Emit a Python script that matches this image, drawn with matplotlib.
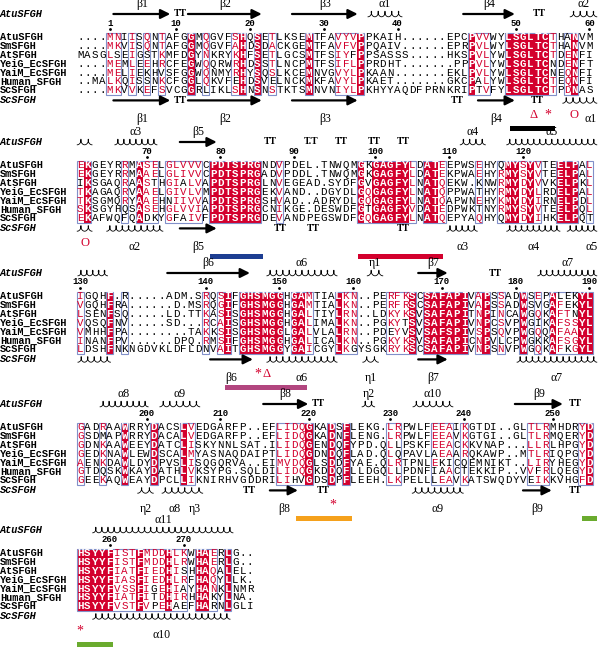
import matplotlib
matplotlib.use("Agg")
import matplotlib.pyplot as plt
from matplotlib.patches import Rectangle
import numpy as np

# ---- alignment data (5 blocks: 70, 70, 70, 70, 24 columns) ----
names = ["AtuSFGH", "SmSFGH", "AtSFGH", "YeiG_EcSFGH", "YaiM_EcSFGH", "Human_SFGH", "ScSFGH"]

seq_atu = ("....MNIISQNTAFGGMQGVFSHQSETLKS" "EMTFAVYVPPKAIH......EPCPVVWYLSGLTCTHANVM"
           "EKGEYRRMASELGLVVVCPDTSPRGNDVPD" "EL.TNWQMGKGAGFYLDATEEPWSEHYQMYSYVTEELPAL"
           "IGQHF.R.....ADM.SRQSIFGHSMGGHG" "AMTIALKN..PERFKSCSAFAPIVAPSSADWSEPALEKYL"
           "GADRAAWRRYDACSLVEDGARFP..EFLID" "QGKADSFLEKG.LRPWLFEEAIKGTDI..GLTLRMHDRYD"
           "HSYYFISTFMDDHLKWHAERLG..")
seq_sm = ("....MKVISQNTAFGGMQGVFAHDSDACKG" "EMTFAVFVPPQAIV......EPRPVLWYLSGLTCTHANVM"
          "EKGEYRRMAAELGLIVVCPDTSPRGADVPD" "DL.TNWQMGKGAGFYLDATEKPWAEHYRMYSYVTEELPAL"
          "VGQHFRA......D.MSRQGIFGHSMGGHG" "AMTIALKN..PERFRSCSAFAPIVAPSSADWSVGAFEKYL"
          "GSDMAPWRRYDACALVEDGARFP..EFLID" "QGKADNFLENG.LRPWLFEEAVKGTGI..GLTLRMQERYD"
          "HSYYFISTFMDDHLRWHAERLG..")
seq_at = ("MASGLSEIGSTKMFDGYNKRYKHFSETLGC" "SMTFSIYFPPSASSS.....HKSPVLYWLSGLTCTDENFI"
          "IKSGAQRAASTHGIALVAPDTSPRGLNVEG" "EAD.SYDFGVGAGFYLNATQEKW.KNWRMYDYVVKELPKL"
          "LSENFSQ.....LD.TTKASISGHSMGGHG" "ALTIYLRN..LDKYKSVSAFAPITNPINCAWGQKAFTNYL"
          "GDNKAAWEEYDATCLISKYNNLSAT.ILID" "QGENDQFYPD.QLLPSKFEEACKKVNAP...LLRLHPGYD"
          "HSYYFIATFIEDHISHHAQALEL.")
seq_yeig = ("....MEMLEEHRCFEGWQQRWRHDSSTLNC" "PMTFSIFLPPRDHT.......PPPVLYWLSGLTCNDENFT"
            "TKAGAQRVAAELGIVLVMPDTSPRGEKVAN" "D..DGYDLGQGAGFYLNATQPPWATHYRMYDYLRDELPAL"
            "VQSQFNV.....SD...RCAISGHSMGGHG" "ALIMALKN..PGKYTSVSAFAPIVNPCSVPWGIKAFSSYL"
            "GEDKNAWLEWDSCALMYASNAQDAIPTLID" "QGDNDQFLAD.QLQPAVLAEAARQKAWP..MTLRIQPGYD"
            "HSYYFIASFIEDHLRFHAQYLLK.")
seq_yaim = ("....MELIEKHVSFGGWQNMYRHYSQSLKC" "EMNVGVYLPKAAN.......EKLPVLYWLSGLTCNEQNFI"
            "TKSGMQRYAAEHNIIVVAPDTSPRGSHVAD" "..ADRYDLGQGAGFYLNATQAPWNEHYKMYDYIRNELPDL"
            "VMHHFPA........TAKKSISGHSMGGLG" "ALVLALRN..PDEYVSVSAFSPIVSPSQVPWGQQAFAAYL"
            "AENKDAWLDYDPVSLISQGQRVA..EIMVD" "QGLSDDFYAE.QLRTPNLEKICQEMNIKT..LIRYHEGYD"
            "HSYYFVSSFIGEHIAYHANKLNMR")
seq_human = ("..MALKQISSNKCFGGLQKVFEHDSVELNC" "KMKFAVYLPKAET.......GKCPALYWLSGLTCTEQNFI"
             "SKSGYHQSASEHGLVVIAPDTSPRGCNIKG" "E.DESWDFGTGAGFYVDATEDPWKTNYRMYSYVTEELPQL"
             "INANFPV......DPQ.RMSIFGHSMGGHG" "ALICALKN..PGKYKSVSAFAPICNPVLCPWGKKAFSGYL"
             "GTDQSKWKAYDATHLVKSYPG.SQLDILID" "QGKDDQFLLDGQLLPDNFIAACTEKKIP..VVFRLQEGYD"
             "HSYYFIATFITDHIRHHAKYLNA.")
seq_sc = ("....MKVVKEFSVCGGRLIKLSHNSNSTKT" "SMNVNIYLPKHYYAQDFPRNKRIPTVFYLSGLTCTPDNAS"
          "EKAFWQFQADKYGFAIVFPDTSPRGDEVAN" "DPEGSWDFGQGAGFYLNATQEPYAQHYQMYDYIHKELPQT"
          "LDSHFNKNGDVKLDFLDNVAITGHSMGGYG" "AICGYLKGYSGKRYKSCSAFAPIVNPSNVPWGQKAFKGYL"
          "GEEKAQWEAYDPCLLIKNIRHVGDDRILIH" "VGDSDPFLEEH.LKPELLLEAVKATSWQDYVEIKKVHGFD"
          "HSYYFVSTFVPEHAEFHARNLGLI")
seqs = [seq_atu, seq_sm, seq_at, seq_yeig, seq_yaim, seq_human, seq_sc]

# column class: F = strictly conserved (red box), B = similar (framed), . = none
col_class = ("....BB.B.B.B...F.B...BF.F.B..." ".F...BBBF" ".............." "FBB..FFFFFFB.BF.."
             "BF....B.FBB.BBBBB.FFFFFFF..B.." "........FBFFFFFB.FFB....B..BFFBFB..FFF.B"
             "B...F.B..........B.BF.FFFFFF.F" "FB...FBB....BBBF.FFFFFF.BF.B..F.B.FBBBFF"
             "B..B..F...F...FB...........BBB" "BF..F.F.....BB....BBB.B........BBB....BF"
             "FFFFFBBBFBBBFBB.FFB.F...")

# secondary structure (block, kind, start col, end col, label); H helix, E strand, T turn
ss_top = [
    (0, "E", 5.0, 12.7, "β1"), (0, "T", 13.0, 15.0, "TT"), (0, "E", 15.1, 25.1, "β2"),
    (0, "E", 29.2, 38.1, "β3"), (0, "H", 39.5, 44.1, "α1"), (0, "E", 52.4, 59.4, "β4"),
    (0, "T", 61.7, 63.7, "TT"), (0, "H", 66.9, 70.5, "α2"),
    (1, "H", 0.1, 2.1, ""), (1, "H", 5.2, 10.9, "α3"), (1, "E", 14.0, 19.0, "β5"),
    (1, "T", 25.3, 27.3, "TT"), (1, "T", 30.6, 33.0, "T.T"), (1, "T", 34.6, 37.1, "TT"),
    (1, "T", 39.5, 41.3, "TT"), (1, "T", 43.4, 45.3, "TT"), (1, "H", 52.0, 55.4, "α4"),
    (1, "H", 58.3, 70.5, "α5"),
    (2, "H", 0.2, 4.2, ""), (2, "E", 12.3, 23.5, "β6"), (2, "H", 25.8, 35.3, "α6"),
    (2, "H", 39.4, 41.5, "η1"), (2, "E", 46.3, 50.3, "β7"), (2, "T", 55.8, 57.6, "TT"),
    (2, "H", 62.5, 70.5, "α7"),
    (3, "H", 3.2, 9.7, "α8"), (3, "H", 11.3, 16.7, "α9"), (3, "E", 25.3, 31.4, "β8"),
    (3, "T", 31.6, 33.9, "TT"), (3, "H", 38.7, 40.4, "η2"), (3, "H", 45.6, 51.0, "α10"),
    (3, "E", 59.4, 65.9, "β9"), (3, "T", 66.5, 68.6, "TT"),
    (4, "H", 2.2, 21.2, "α11"),
]
ss_bot = [
    (0, "E", 5.0, 12.7, "β1"), (0, "T", 13.0, 15.0, "TT"), (0, "E", 15.1, 25.1, "β2"),
    (0, "E", 29.2, 38.1, "β3"), (0, "T", 50.6, 52.6, "TT"), (0, "E", 54.4, 59.4, "β4"),
    (0, "T", 61.5, 63.5, "TT"), (0, "H", 65.9, 70.5, "α1"),
    (1, "H", 0.1, 2.1, ""), (1, "H", 4.1, 11.7, "α2"), (1, "E", 14.0, 19.0, "β5"),
    (1, "T", 26.6, 28.5, "TT"), (1, "T", 31.2, 33.0, "TT"), (1, "T", 43.4, 45.2, "TT"),
    (1, "H", 50.2, 54.3, "α3"), (1, "H", 58.3, 65.5, "α4"), (1, "H", 66.5, 70.5, "α5"),
    (2, "H", 0.2, 4.6, ""), (2, "E", 18.1, 23.9, "β6"), (2, "H", 25.8, 35.3, "α6"),
    (2, "H", 38.8, 40.9, "η1"), (2, "E", 46.3, 50.3, "β7"), (2, "H", 59.7, 70.5, "α7"),
    (3, "H", 8.3, 10.4, "η2"), (3, "H", 11.6, 15.1, "α8"), (3, "H", 15.1, 17.1, "η3"),
    (3, "T", 22.4, 24.5, "TT"), (3, "E", 26.2, 30.0, "β8"), (3, "T", 32.6, 34.4, "TT"),
    (3, "H", 45.5, 52.4, "α9"), (3, "E", 60.5, 64.4, "β9"), (3, "T", 66.6, 68.5, "TT"),
    (4, "H", 2.2, 20.8, "α10"),
]
# label column overrides (block, label) -> column
label_col_bot = {(0, "α1"): 69.6, (1, "α5"): 69.8}

# red site markers below the Sc line
marks = [(0, "Δ", 61.9), (0, "*", 63.9), (0, "O", 67.4), (1, "O", 1.1),
         (2, "*", 24.6), (2, "Δ", 25.8), (3, "*", 34.8), (4, "*", 0.5)]

# coloured bars (block, start col, end col, colour)
bars = [(0, 58.8, 64.8, "black"), (1, 18.1, 25.3, "#1d3e92"), (1, 38.1, 49.6, "#d3002d"),
        (2, 20.1, 31.2, "#b2467f"), (3, 29.8, 37.3, "#f5a11c"), (3, 68.5, 70.5, "#6aab2e"),
        (4, 0.1, 5.0, "#6aab2e")]

# ---- layout ----
X0, W = 76.5, 7.38
ROW = 8.9
Y0 = [37, 165, 296, 427, 553]
BLOCK = 70
RED = "#d3002d"
FRAME = "#8190c9"
MONO = "Liberation Mono"
SERIF = "Liberation Serif"
groups = ["ILMV", "FYW", "KRH", "DENQ", "STAG", "P", "C"]


def grp(a):
    for g in groups:
        if a in g:
            return g
    return None


def cx(c):
    return X0 + (c + 0.5) * W


def ex(c):
    return X0 + c * W


fig = plt.figure(figsize=(6, 6.51), dpi=100)
ax = fig.add_axes([0, 0, 1, 1])
ax.set_xlim(0, 600)
ax.set_ylim(651, 0)
ax.axis("off")


def helix(xa, xb, y):
    n = max(1, int(round((xb - xa) / 6.2)))
    t = np.linspace(0, 2 * np.pi * n, 40 * n)
    p = (xb - xa) / n
    xs = xa + p * t / (2 * np.pi) + 1.6 * np.sin(t)
    ys = y + 2.8 - 2.8 * (1 - np.cos(t))
    ax.plot(xs, ys, color="black", lw=0.6)


def strand(xa, xb, y):
    ax.annotate("", xy=(xb, y), xytext=(xa, y),
                arrowprops=dict(arrowstyle="-|>,head_length=0.7,head_width=0.35",
                                lw=1.6, color="black", shrinkA=0, shrinkB=0,
                                mutation_scale=8))


def draw_ss(b, kind, c0, c1, label, y, ylab, lcol=None):
    xa, xb = ex(c0), ex(c1)
    if kind == "H":
        helix(xa, xb, y)
    elif kind == "E":
        strand(xa, xb, y)
    else:
        ax.text((xa + xb) / 2, y, label, ha="center", va="center",
                family=SERIF, weight="bold", fontsize=7)
        return
    if label:
        lx = ex(lcol) if lcol is not None else (xa + xb) / 2
        ax.text(lx, ylab, label, ha="center", va="center", family=SERIF, fontsize=8.5)


# residue numbering of the first sequence
resnum = []
n = 0
for ch in seq_atu:
    if ch != ".":
        n += 1
        resnum.append(n)
    else:
        resnum.append(None)

ncol = len(seq_atu)
for b, y0 in enumerate(Y0):
    lo, hi = b * BLOCK, min((b + 1) * BLOCK, ncol)
    ytop, ybot = y0 - ROW / 2, y0 + 6 * ROW + ROW / 2
    cls = col_class[lo:hi]

    # red boxes and frames
    c = 0
    while c < len(cls):
        if cls[c] == ".":
            c += 1
            continue
        s = c
        while c < len(cls) and cls[c] != ".":
            c += 1
        ax.add_patch(Rectangle((ex(s), ytop), (c - s) * W, ybot - ytop, fill=False,
                               ec=FRAME, lw=0.8, zorder=3))
    c = 0
    while c < len(cls):
        if cls[c] != "F":
            c += 1
            continue
        s = c
        while c < len(cls) and cls[c] == "F":
            c += 1
        ax.add_patch(Rectangle((ex(s), ytop), (c - s) * W, ybot - ytop, fc=RED,
                               ec="none", zorder=2))

    # names
    ax.text(0, y0 - 23, "AtuSFGH", family=MONO, weight="bold", style="italic",
            fontsize=7.4, va="center")
    ax.text(0, y0 + 6 * ROW + 10, "ScSFGH", family=MONO, weight="bold", style="italic",
            fontsize=7.4, va="center")
    for i, nm in enumerate(names):
        ax.text(0, y0 + i * ROW, nm, family=MONO, weight="bold", fontsize=7.4, va="center")

    # residues
    for k in range(hi - lo):
        col = [s[lo + k] for s in seqs]
        gs = [grp(a) for a in col]
        for i, a in enumerate(col):
            x, y = cx(k), y0 + i * ROW
            if cls[k] == "F":
                ax.text(x, y, a, ha="center", va="center", family=MONO, weight="bold",
                        fontsize=7.8, color="white", zorder=4)
            else:
                color = "black"
                if cls[k] == "B" and a != "." and gs.count(gs[i]) >= 3:
                    color = RED
                ax.text(x, y, a, ha="center", va="center", family=MONO,
                        fontsize=7.8, color=color, zorder=4)
        r = resnum[lo + k]
        if r is not None and (r == 1 or r % 10 == 0):
            ax.text(cx(k), y0 - 14, str(r), ha="center", va="center", family=MONO,
                    weight="bold", fontsize=6.5)
            ax.plot(cx(k), y0 - 8.5, marker="o", ms=1.0, color="black")

for (b, kind, c0, c1, lab) in ss_top:
    y0 = Y0[b]
    draw_ss(b, kind, c0, c1, lab, y0 - 23, y0 - 33)
for (b, kind, c0, c1, lab) in ss_bot:
    y0 = Y0[b]
    draw_ss(b, kind, c0, c1, lab, y0 + 6 * ROW + 10, y0 + 82,
            label_col_bot.get((b, lab)))

for (b, sym, c) in marks:
    ax.text(ex(c), Y0[b] + 78, sym, ha="center", va="center", family=SERIF,
            fontsize=9 if sym != "*" else 10, color=RED, weight="normal")

for (b, c0, c1, colr) in bars:
    ax.add_patch(Rectangle((ex(c0), Y0[b] + 88.5), (c1 - c0) * W, 5, fc=colr, ec="none"))

fig.savefig("out.png", dpi=100)
